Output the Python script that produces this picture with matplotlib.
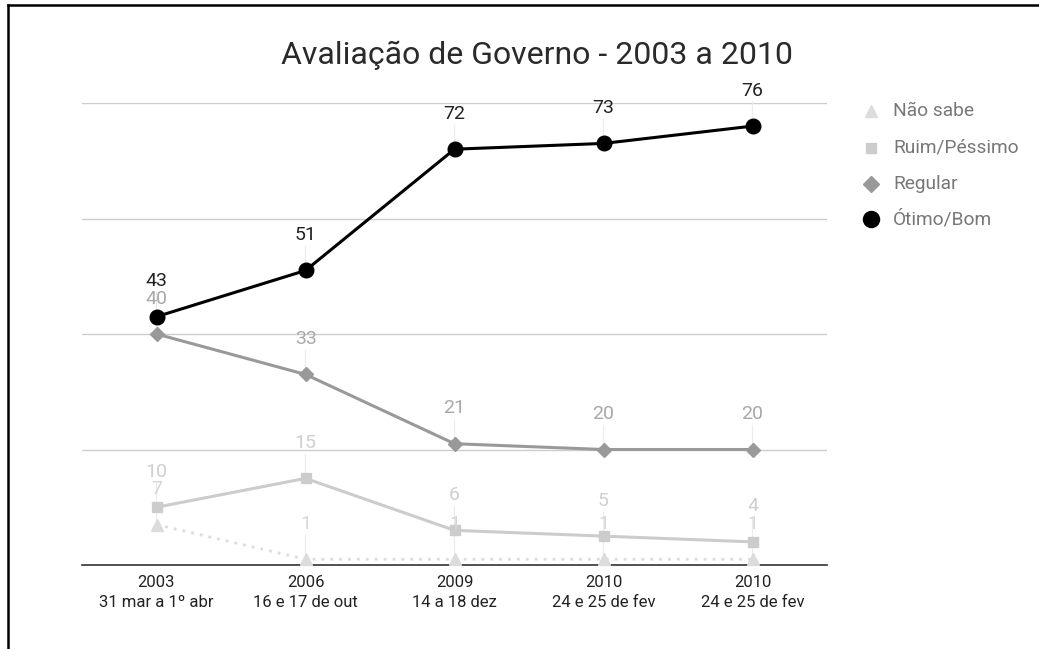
import matplotlib
matplotlib.use("Agg")
import matplotlib.pyplot as plt
from matplotlib.lines import Line2D

plt.rcParams['font.family'] = ['Roboto', 'DejaVu Sans']

# ---- data ----
categories = ["2003\n31 mar a 1º abr", "2006\n16 e 17 de out", "2009\n14 a 18 dez",
              "2010\n24 e 25 de fev", "2010\n24 e 25 de fev"]
nao_sabe = [7, 1, 1, 1, 1]
ruim_pessimo = [10, 15, 6, 5, 4]
regular = [40, 33, 21, 20, 20]
otimo_bom = [43, 51, 72, 73, 76]
series_names = ["Não sabe", "Ruim/Péssimo", "Regular", "Ótimo/Bom"]
title = "Avaliação de Governo - 2003 a 2010"
y_ticks = [0, 20, 40, 60, 80]

# ---- styles ----
styles = {
    "Não sabe": dict(color="#dcdcdc", marker="^", ms=8, ls=(0, (1, 2.2)), lw=2.0, label_color="#d6d6d6"),
    "Ruim/Péssimo": dict(color="#cccccc", marker="s", ms=6.5, ls="-", lw=2.2, label_color="#cfcfcf"),
    "Regular": dict(color="#999999", marker="D", ms=7, ls="-", lw=2.2, label_color="#a8a8a8"),
    "Ótimo/Bom": dict(color="#000000", marker="o", ms=10.5, ls="-", lw=2.2, label_color="#222222"),
}
values = {"Não sabe": nao_sabe, "Ruim/Péssimo": ruim_pessimo,
          "Regular": regular, "Ótimo/Bom": otimo_bom}

fig = plt.figure(figsize=(10.39, 6.49), dpi=100)
ax = fig.add_axes([82/1039, 84/649, (827-82)/1039, (565-103)/649])

x = list(range(len(categories)))
label_offset_pt = 25.5

for name in series_names:
    st = styles[name]
    vals = values[name]
    ax.plot(x, vals, color=st["color"], marker=st["marker"], markersize=st["ms"],
            linestyle=st["ls"], linewidth=st["lw"], zorder=3, clip_on=False)
    for xi, v in zip(x, vals):
        ax.annotate("", xy=(xi, v), xytext=(0, label_offset_pt - 8), textcoords="offset points",
                    arrowprops=dict(arrowstyle="-", color="#ececec", lw=0.8,
                                    shrinkA=0, shrinkB=0), zorder=1)
        ax.annotate(str(v), xy=(xi, v), xytext=(0, label_offset_pt), textcoords="offset points",
                    ha="center", va="center", fontsize=14, color=st["label_color"], zorder=4)

ax.set_xlim(-0.5, len(categories) - 0.5)
ax.set_ylim(0, 80)
ax.set_yticks(y_ticks)
ax.yaxis.grid(True, color="#cccccc", linewidth=1.0)
ax.set_axisbelow(True)
ax.tick_params(axis="y", left=False, labelleft=False)
ax.set_xticks(x)
ax.set_xticklabels(categories, fontsize=12, color="#222222", linespacing=1.4)
ax.tick_params(axis="x", length=0, pad=7)
for s in ["top", "right", "left"]:
    ax.spines[s].set_visible(False)
ax.spines["bottom"].set_color("#333333")
ax.spines["bottom"].set_linewidth(1.2)
ax.spines["bottom"].set_zorder(2)

fig.text(537/1039, 1 - 55/649, title, ha="center", va="center", fontsize=23, color="#2a2a2a")

# legend (top entry is Não sabe)
leg_y = [111, 148, 184, 219]
for name, yy in zip(series_names, leg_y):
    st = styles[name]
    fig.add_artist(Line2D([871/1039], [1 - yy/649], marker=st["marker"], color=st["color"],
                          markersize=st["ms"] * 1.1,
                          linestyle="none", transform=fig.transFigure))
    fig.text(893/1039, 1 - yy/649, name, ha="left", va="center", fontsize=13.8, color="#777777")

# frame lines (left and top)
fig.add_artist(Line2D([7.5/1039, 7.5/1039], [0, 1 - 5/649], color="black", lw=1.8,
                      transform=fig.transFigure))
fig.add_artist(Line2D([7.5/1039, 1], [1 - 5/649, 1 - 5/649], color="black", lw=1.8,
                      transform=fig.transFigure))

fig.savefig("out.png", dpi=100, facecolor="white")
